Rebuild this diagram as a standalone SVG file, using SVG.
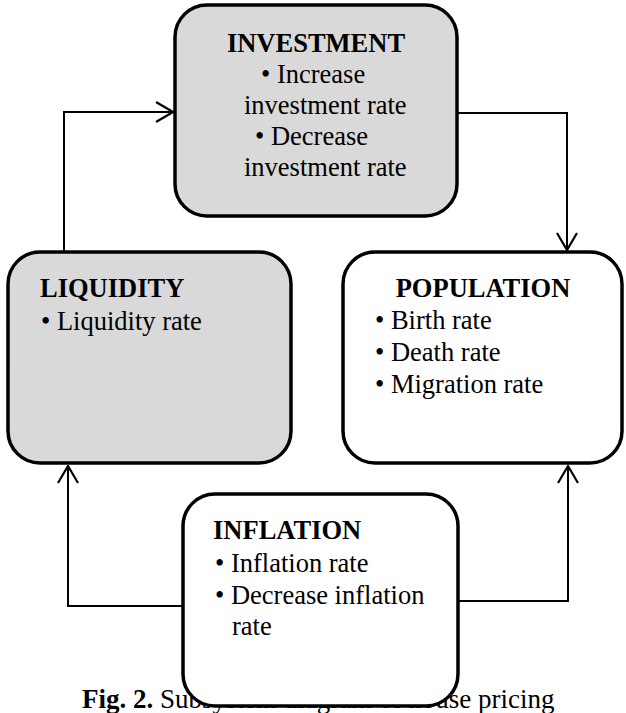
<svg xmlns="http://www.w3.org/2000/svg" width="626" height="713" viewBox="0 0 626 713">
  <defs>
    <marker id="arrow" viewBox="0 0 20 24" refX="19" refY="12" markerWidth="20" markerHeight="24" markerUnits="userSpaceOnUse" orient="auto">
      <path d="M2,2 L19,12 L2,22" fill="none" stroke="#000" stroke-width="2.2"/>
    </marker>
  </defs>
  <style>
    .box { stroke: #000; stroke-width: 3.5; }
    .grey { fill: #d9d9d9; }
    .white { fill: #fff; }
    text { font-family: "Liberation Serif", "Times New Roman", serif; font-size: 26.5px; fill: #000; }
    .title { font-weight: bold; }
    .caption { font-size: 27px; }
    .edge { fill: none; stroke: #000; stroke-width: 2; marker-end: url(#arrow); }
  </style>

  <rect width="626" height="713" fill="#fff"/>

  <!-- caption (partly covered by the INFLATION box) -->
  <text id="caption" class="caption" x="82" y="708"><tspan font-weight="bold">Fig. 2.</tspan> Subsystem diagram of house pricing</text>

  <!-- connectors -->
  <g id="connectors">
    <path class="edge" d="M64,251 L64,112 L173,112"/>
    <path class="edge" d="M457,113 L567,113 L567,250"/>
    <path class="edge" d="M183,606 L68,606 L68,466"/>
    <path class="edge" d="M458,601 L568,601 L568,466"/>
  </g>

  <g id="investment">
    <rect class="box grey" x="175" y="5" width="282" height="211" rx="32" ry="32"/>
    <text class="title" x="316" y="52" text-anchor="middle">INVESTMENT</text>
    <text x="261" y="83">• Increase</text>
    <text x="244" y="114">investment rate</text>
    <text x="255" y="145">• Decrease</text>
    <text x="244" y="176">investment rate</text>
  </g>

  <g id="liquidity">
    <rect class="box grey" x="8" y="252" width="283" height="211" rx="32" ry="32"/>
    <text class="title" x="40" y="297">LIQUIDITY</text>
    <text x="41" y="330">• Liquidity rate</text>
  </g>

  <g id="population">
    <rect class="box white" x="343" y="252" width="279" height="211" rx="32" ry="32"/>
    <text class="title" x="483" y="297" text-anchor="middle">POPULATION</text>
    <text x="375" y="329">• Birth rate</text>
    <text x="375" y="361">• Death rate</text>
    <text x="375" y="393">• Migration rate</text>
  </g>

  <g id="inflation">
    <rect class="box white" x="183" y="494" width="275" height="212" rx="32" ry="32"/>
    <text class="title" x="213" y="539">INFLATION</text>
    <text x="215" y="572">• Inflation rate</text>
    <text x="215" y="604">• Decrease inflation</text>
    <text x="232" y="635">rate</text>
  </g>
</svg>
